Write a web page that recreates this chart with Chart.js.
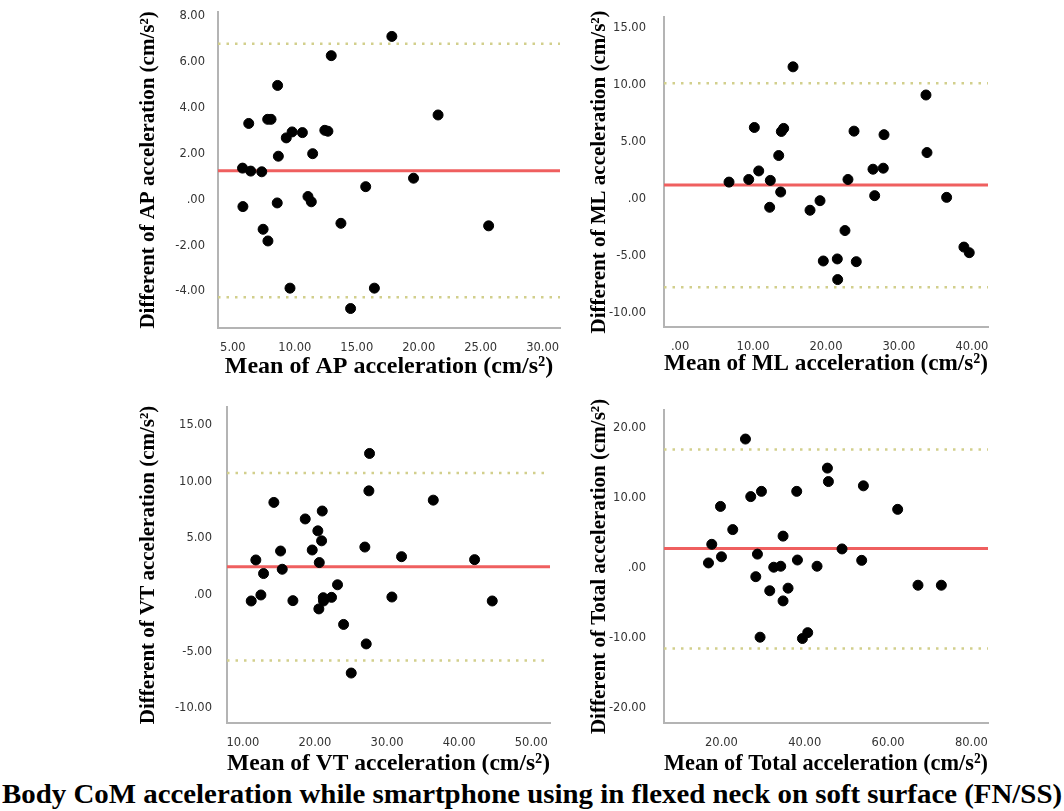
<!DOCTYPE html>
<html>
<head>
<meta charset="utf-8">
<script src="https://cdn.jsdelivr.net/npm/chart.js@4"></script>
<style>
  body { margin: 0; background: #fff; width: 1064px; height: 811px; position: relative; overflow: hidden; }
  canvas { position: absolute; }
  #mainTitle { position: absolute; left: 0; top: 778px; width: 1064px; text-align: center;
    font: bold 28px "Liberation Serif", "Times New Roman", serif; color: #000; white-space: nowrap; }
  #mainTitle span { display: inline-block; transform-origin: center; }
</style>
</head>
<body>
<canvas id="apChart" width="444" height="381" style="left:136px; top:0px"></canvas>
<canvas id="mlChart" width="421" height="378" style="left:587px; top:0px"></canvas>
<canvas id="vtChart" width="434" height="385" style="left:136px; top:393px"></canvas>
<canvas id="totalChart" width="421" height="385" style="left:587px; top:393px"></canvas>
<div id="mainTitle"><span>Body CoM acceleration while smartphone using in flexed neck on soft surface (FN/SS)</span></div>
<script>
// AP acceleration
const apMean = [17.83, 12.94, 8.61, 6.28, 7.81, 8.08, 21.56, 9.31, 9.78, 10.61, 12.42, 12.67, 11.44, 8.67, 5.78,
                6.44, 7.33, 19.58, 15.72, 11.06, 11.33, 5.81, 8.58, 13.72, 25.64, 7.44, 7.83, 9.61, 16.42, 14.5];
const apDiff = [7.13, 6.29, 4.99, 3.33, 3.51, 3.51, 3.70, 2.70, 2.96, 2.93, 3.03, 2.99, 2.01, 1.90, 1.38,
                1.25, 1.22, 0.94, 0.57, 0.14, -0.09, -0.30, -0.14, -1.03, -1.14, -1.29, -1.80, -3.86, -3.86, -4.75];
const apLimits = [1.26, 6.81, -4.26]; // mean diff, upper, lower
const apXRange = [3.8, 31.4];
const apYRange = [-5.6, 8.2];
const apXTicks = [5, 10, 15, 20, 25, 30];
const apYTicks = [-4, -2, 0, 2, 4, 6, 8];

// ML acceleration
const mlMean = [15.48, 33.70, 10.18, 14.2, 13.88, 23.84, 27.95, 33.84, 13.52, 10.78, 26.44, 27.85, 6.71, 9.41, 12.37,
                23.01, 13.79, 26.67, 36.53, 19.18, 12.28, 17.81, 22.6, 19.63, 21.55, 24.15, 21.6, 38.9, 39.63];
const mlDiff = [11.62, 9.15, 6.30, 6.22, 5.95, 5.98, 5.67, 4.10, 3.84, 2.49, 2.64, 2.73, 1.51, 1.74, 1.66,
                1.74, 0.64, 0.32, 0.17, -0.12, -0.70, -0.96, -2.74, -5.41, -5.23, -5.47, -7.04, -4.19, -4.68];
const mlLimits = [1.25, 10.17, -7.71];
const mlXRange = [-2.2, 42.2];
const mlYRange = [-11.2, 16.0];
const mlXTicks = [0, 10, 20, 30, 40];
const mlYTicks = [-10, -5, 0, 5, 10, 15];

// VT acceleration
const vtMean = [27.57, 27.48, 36.41, 14.3, 21.01, 18.65, 20.4, 20.92, 26.92, 19.62, 15.23, 32.01, 11.8, 42.14, 20.6,
                15.46, 12.87, 23.13, 12.5, 11.16, 16.94, 21.15, 21.19, 22.3, 30.67, 44.59, 20.54, 23.97, 27.11, 25.03];
const vtDiff = [12.49, 9.19, 8.37, 8.17, 7.41, 6.71, 5.66, 4.78, 4.23, 3.97, 3.88, 3.38, 3.09, 3.12, 2.86,
                2.27, 1.89, 0.9, 0.0, -0.53, -0.5, -0.24, -0.53, -0.21, -0.18, -0.53, -1.23, -2.6, -4.32, -6.89];
const vtLimits = [2.5, 10.77, -5.78];
const vtXRange = [7.8, 52.6];
const vtYRange = [-11.3, 16.6];
const vtXTicks = [10, 20, 30, 40, 50];
const vtYTicks = [-10, -5, 0, 5, 10, 15];

// Total acceleration
const totalMean = [25.76, 45.44, 45.68, 54.08, 29.6, 38.07, 27.03, 19.76, 62.31, 22.71, 34.79, 17.67, 48.95, 20.0, 28.64,
                   38.24, 53.67, 16.88, 32.55, 34.23, 42.95, 28.24, 35.99, 31.59, 34.79, 67.19, 72.8, 29.27, 39.44, 40.71];
const totalDiff = [18.44, 14.29, 12.37, 11.76, 10.97, 10.97, 10.22, 8.82, 8.4, 5.51, 4.58, 3.41, 2.75, 1.63, 2.01,
                   1.17, 1.12, 0.75, 0.14, 0.28, 0.28, -1.21, -2.85, -3.22, -4.67, -2.43, -2.43, -9.85, -10.04, -9.2];
const totalLimits = [2.8, 16.95, -11.48];
const totalXRange = [6.2, 84.0];
const totalYRange = [-22.1, 22.6];
const totalXTicks = [20, 40, 60, 80];
const totalYTicks = [-20, -10, 0, 10, 20];

const tickFont = { family: '"DejaVu Sans", Verdana, sans-serif', size: 11.5 };
const serif = '"Liberation Serif", "Times New Roman", serif';

function fmt(v) {
    const r = Math.round(v * 100) / 100;
    return r === 0 ? '.00' : r.toFixed(2);
}

function hLine(y, range, color, dash, width) {
    return {
        type: 'line',
        data: [{ x: range[0], y: y }, { x: range[1], y: y }],
        borderColor: color,
        borderWidth: width,
        borderDash: dash,
        pointRadius: 0,
        fill: false,
        order: 2
    };
}

function makePanel(id, means, diffs, limits, xRange, yRange, xTicks, yTicks, xTitle, yTitle, box) {
    const points = means.map((m, i) => ({ x: m, y: diffs[i] }));
    new Chart(document.getElementById(id), {
        type: 'scatter',
        data: {
            datasets: [
                {
                    data: points,
                    backgroundColor: '#000',
                    borderColor: '#000',
                    pointRadius: 5,
                    pointHoverRadius: 5,
                    order: 1
                },
                hLine(limits[0], xRange, '#ef5f5f', [], 3),
                hLine(limits[1], xRange, '#d2cf8c', [2.5, 6], 2.5),
                hLine(limits[2], xRange, '#d2cf8c', [2.5, 6], 2.5)
            ]
        },
        options: {
            responsive: false,
            animation: false,
            devicePixelRatio: 1,
            layout: { padding: { top: box.top, right: 20, bottom: 0, left: 0 } },
            plugins: { legend: { display: false }, tooltip: { enabled: false } },
            scales: {
                x: {
                    type: 'linear',
                    min: xRange[0],
                    max: xRange[1],
                    grid: { display: false },
                    border: { display: true, color: '#b4b4b4', width: 2 },
                    afterBuildTicks: axis => { axis.ticks = xTicks.map(v => ({ value: v })); },
                    afterFit: axis => { axis.height = box.xh; },
                    ticks: { font: tickFont, color: '#333', padding: 5, maxRotation: 0, callback: v => fmt(v) },
                    title: { display: true, text: xTitle, color: '#000', padding: 0,
                             font: { family: serif, size: 24, weight: 'bold' } }
                },
                y: {
                    type: 'linear',
                    min: yRange[0],
                    max: yRange[1],
                    grid: { display: false },
                    border: { display: true, color: '#b4b4b4', width: 2 },
                    afterBuildTicks: axis => { axis.ticks = yTicks.map(v => ({ value: v })); },
                    afterFit: axis => { axis.width = box.yw; },
                    ticks: { font: tickFont, color: '#333', padding: box.tp, callback: v => fmt(v) },
                    title: { display: true, text: yTitle, color: '#000', padding: 0,
                             font: { family: serif, size: 21, weight: 'bold' } }
                }
            }
        }
    });
}

makePanel('apChart', apMean, apDiff, apLimits, apXRange, apYRange, apXTicks, apYTicks,
    'Mean of AP acceleration (cm/s\u00B2)', 'Different of AP acceleration (cm/s\u00B2)',
    { top: 10, xh: 53, yw: 82, tp: 5 });
makePanel('mlChart', mlMean, mlDiff, mlLimits, mlXRange, mlYRange, mlXTicks, mlYTicks,
    'Mean of ML acceleration (cm/s\u00B2)', 'Different of ML acceleration (cm/s\u00B2)',
    { top: 8, xh: 51, yw: 77, tp: 10 });
makePanel('vtChart', vtMean, vtDiff, vtLimits, vtXRange, vtYRange, vtXTicks, vtYTicks,
    'Mean of VT acceleration (cm/s\u00B2)', 'Different of VT acceleration (cm/s\u00B2)',
    { top: 10, xh: 55, yw: 91, tp: 7 });
makePanel('totalChart', totalMean, totalDiff, totalLimits, totalXRange, totalYRange, totalXTicks, totalYTicks,
    'Mean of Total acceleration (cm/s\u00B2)', 'Different of Total acceleration (cm/s\u00B2)',
    { top: 10, xh: 55, yw: 77, tp: 10 });

// squeeze the bottom title to the full page width like the original
const span = document.querySelector('#mainTitle span');
const w = span.getBoundingClientRect().width;
span.style.transform = 'scaleX(' + (1060 / w) + ')';
</script>
</body>
</html>
